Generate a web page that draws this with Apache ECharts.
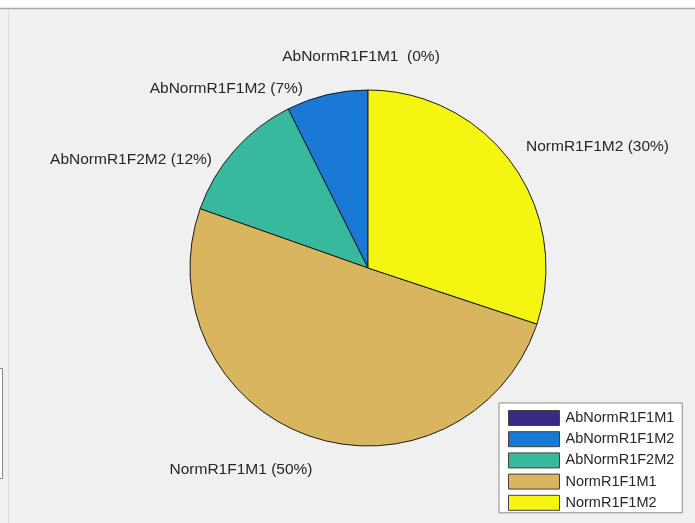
<!DOCTYPE html>
<html>
<head>
<meta charset="utf-8">
<script src="https://cdn.jsdelivr.net/npm/echarts@6/dist/echarts.min.js"></script>
<style>
html,body{margin:0;padding:0;background:#f0f0f0;}
#chart{width:695px;height:523px;}
</style>
</head>
<body>
<div id="chart"></div>
<script>
const categories = ['AbNormR1F1M1', 'AbNormR1F1M2', 'AbNormR1F2M2', 'NormR1F1M1', 'NormR1F1M2'];
const values = [0, 7.4, 12.2, 50.3, 30.1];
const colors = ['#352a87', '#1a78d6', '#38b89c', '#d9b65e', '#f5f512'];
const labelSpacer = ['  ', ' ', ' ', ' ', ' '];

// label anchor layout (text placement only)
const labelAnchors = [
  {x: 361, y: 57, align: 'center'},
  {x: 303, y: 89, align: 'right'},
  {x: 212, y: 160, align: 'right'},
  {x: 241, y: 470, align: 'center'},
  {x: 526, y: 147, align: 'left'}
];

const total = values.reduce((a, b) => a + b, 0);
const chart = echarts.init(document.getElementById('chart'), null, {renderer: 'canvas'});
const option = {
  backgroundColor: '#f0f0f0',
  animation: false,
  graphic: [
    {type: 'rect', shape: {x: 0, y: 0, width: 695, height: 8}, style: {fill: '#ffffff'}, silent: true},
    {type: 'line', shape: {x1: 0, y1: 8.5, x2: 695, y2: 8.5}, style: {stroke: '#a8a8a8', lineWidth: 1.5}, silent: true},
    {type: 'line', shape: {x1: 8.5, y1: 9, x2: 8.5, y2: 523}, style: {stroke: '#dcdcdc', lineWidth: 1}, silent: true},
    {type: 'rect', shape: {x: -5, y: 368.5, width: 7.5, height: 110}, style: {fill: '#ffffff', stroke: '#8a8a8a', lineWidth: 1}, silent: true}
  ],
  legend: {
    orient: 'vertical',
    left: 499,
    top: 403,
    itemWidth: 51,
    itemHeight: 15,
    itemGap: 5.2,
    padding: [7, 8, 2, 9],
    backgroundColor: '#ffffff',
    borderColor: '#8c8c8c',
    borderWidth: 1,
    borderRadius: 0,
    icon: 'rect',
    itemStyle: {borderColor: '#404040', borderWidth: 1},
    textStyle: {fontFamily: 'Liberation Sans, Arial, sans-serif', fontSize: 14.5, lineHeight: 15, color: '#262626', padding: [0, 0, 0, 1]},
    data: categories
  },
  series: [{
    type: 'pie',
    center: [368, 268],
    radius: 178,
    startAngle: 90,
    clockwise: false,
    avoidLabelOverlap: false,
    stillShowZeroSum: true,
    itemStyle: {borderColor: '#1a1a1a', borderWidth: 1},
    label: {
      show: true,
      position: 'outside',
      fontFamily: 'Liberation Sans, Arial, sans-serif',
      fontSize: 15.5,
      color: '#262626',
      formatter: p => p.name + labelSpacer[p.dataIndex] + '(' + Math.round(p.value / total * 100) + '%)'
    },
    labelLine: {show: false},
    labelLayout: p => {
      const a = labelAnchors[p.dataIndex];
      return {x: a.x, y: a.y, align: a.align, verticalAlign: 'middle'};
    },
    emphasis: {disabled: true},
    data: categories.map((c, i) => ({name: c, value: values[i], itemStyle: {color: colors[i]}}))
  }]
};
chart.setOption(option);
</script>
</body>
</html>
